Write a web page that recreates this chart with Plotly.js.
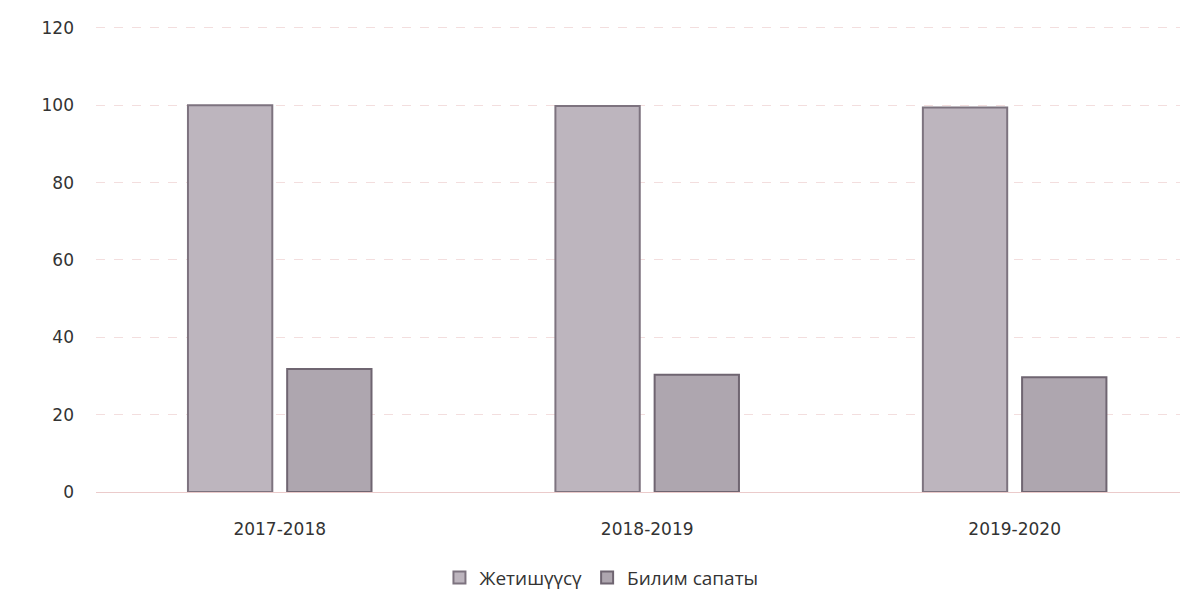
<!DOCTYPE html>
<html>
<head>
<meta charset="utf-8">
<script src="https://cdn.plot.ly/plotly-3.0.1.min.js"></script>
<style>html,body{margin:0;padding:0;background:#fff;overflow:hidden;}</style>
</head>
<body>
<div id="chart" style="width:1191px;height:595px;"></div>
<script>
const categories = ["2017-2018", "2018-2019", "2019-2020"];
const seriesNames = ["Жетишүүсү", "Билим сапаты"];
const achievement = [100, 99.8, 99.4];
const quality = [31.8, 30.3, 29.7];
const yTicks = [0, 20, 40, 60, 80, 100, 120];

const traces = [
  {
    type: "bar", name: seriesNames[0], x: categories, y: achievement,
    marker: {color: "#bdb5be", line: {color: "#7d737f", width: 2}},
    hoverinfo: "x+y"
  },
  {
    type: "bar", name: seriesNames[1], x: categories, y: quality,
    marker: {color: "#aea6af", line: {color: "#6f6571", width: 2}},
    hoverinfo: "x+y"
  }
];

const layout = {
  width: 1191, height: 595,
  margin: {l: 96, r: 11, t: 24, b: 103},
  paper_bgcolor: "#ffffff", plot_bgcolor: "#ffffff",
  barmode: "group", bargap: 0.46, bargroupgap: 0.15,
  font: {family: "DejaVu Sans", color: "#333"},
  xaxis: {
    type: "category", range: [-0.5, 2.45],
    showgrid: false, zeroline: false, showline: false,
    ticks: "", ticklabelstandoff: 25,
    tickfont: {family: "DejaVu Sans", size: 17, color: "#333"}
  },
  yaxis: {
    range: [0, 121], tickvals: yTicks, ticktext: yTicks.map(String),
    showgrid: true, gridcolor: "rgba(235,200,200,0.6)", gridwidth: 1, griddash: "dash",
    zeroline: true, zerolinecolor: "rgba(230,190,190,0.8)", zerolinewidth: 1,
    showline: false, ticks: "", ticklabelstandoff: 21,
    tickfont: {family: "DejaVu Sans", size: 17, color: "#333"}
  },
  legend: {
    orientation: "h", x: 0.505, xanchor: "center", xref: "container",
    y: 0.029, yanchor: "middle", yref: "container",
    font: {family: "Open Sans", size: 19, color: "#333"},
    itemwidth: 30, traceorder: "normal"
  },
  showlegend: true
};

Plotly.newPlot("chart", traces, layout, {displayModeBar: false, staticPlot: true});
</script>
</body>
</html>
